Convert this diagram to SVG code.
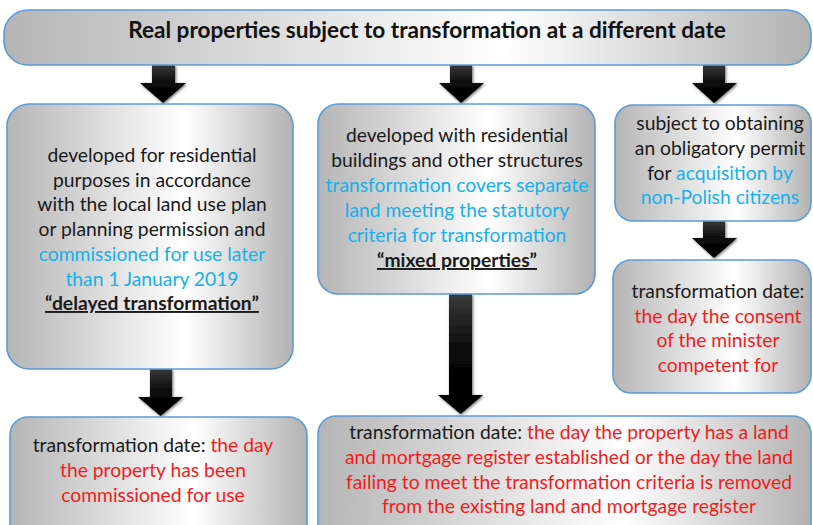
<svg xmlns="http://www.w3.org/2000/svg" width="813" height="525" viewBox="0 0 813 525">
<style>
.box{stroke:#5b9bd5;stroke-width:1.6;fill:url(#bg)}
.t{font-family:Lato,"Liberation Sans",sans-serif;font-size:19.3px;fill:#1a1a1a;text-anchor:middle}
.title{font-family:Lato,"Liberation Sans",sans-serif;font-size:22.6px;font-weight:bold;fill:#111;text-anchor:middle}
.b{fill:#17b0ea}
.r{fill:#f21c1c}
.u{font-weight:bold;text-decoration:underline}
.arr{fill:url(#ag);filter:url(#sh)}
</style>
<defs>
<linearGradient id="bg" x1="0" y1="0" x2="1" y2="0">
<stop offset="0" stop-color="#b5b5b5"/>
<stop offset="0.62" stop-color="#ffffff"/>
<stop offset="1" stop-color="#b2b2b2"/>
</linearGradient>
<linearGradient id="ag" x1="0" y1="0" x2="0" y2="1">
<stop offset="0" stop-color="#3a3a3a"/>
<stop offset="0.5" stop-color="#080808"/>
<stop offset="1" stop-color="#000"/>
</linearGradient>
<filter id="sh" x="-30%" y="-30%" width="160%" height="160%">
<feGaussianBlur in="SourceAlpha" stdDeviation="1.8"/>
<feOffset dx="1" dy="1" result="b"/>
<feComponentTransfer><feFuncA type="linear" slope="0.6"/></feComponentTransfer>
<feMerge><feMergeNode/><feMergeNode in="SourceGraphic"/></feMerge>
</filter>
</defs>
<rect width="813" height="525" fill="#fff"/>

<g id="connectors">
<polygon class="arr" points="152,65 175,65 175,83 186,83 163,103 140,83 152,83"/>
<polygon class="arr" points="450,65 472,65 472,83 484,83 461,103 439,83 450,83"/>
<polygon class="arr" points="703,65 725,65 725,83 737,83 714,103 692,83 703,83"/>
<polygon class="arr" points="703,221 725,221 725,238 737,238 714,258 692,238 703,238"/>
<polygon class="arr" points="150,369 172,369 172,397 183,397 160.5,416 138,397 150,397"/>
<polygon class="arr" points="449,294 472,294 472,395 483,395 460.5,414 438,395 449,395"/>
</g>

<g id="top">
<rect class="box" x="4" y="10" width="807" height="55" rx="24"/>
<text class="title" x="427" y="38">Real properties subject to transformation at a different date</text>
</g>

<g id="delayed">
<rect class="box" x="7" y="104" width="286" height="265" rx="22"/>
<text class="t" x="152" y="162">developed for residential</text>
<text class="t" x="152" y="187">purposes in accordance</text>
<text class="t" x="152" y="211">with the local land use plan</text>
<text class="t" x="152" y="236">or planning permission and</text>
<text class="t b" x="152" y="261">commissioned for use later</text>
<text class="t b" x="152" y="286">than 1 January 2019</text>
<text class="t u" x="152" y="310">“delayed transformation”</text>
</g>

<g id="mixed">
<rect class="box" x="318" y="104" width="277" height="190" rx="20"/>
<text class="t" x="457" y="142">developed with residential</text>
<text class="t" x="457" y="167">buildings and other structures</text>
<text class="t b" x="457" y="192">transformation covers separate</text>
<text class="t b" x="457" y="217">land meeting the statutory</text>
<text class="t b" x="457" y="242">criteria for transformation</text>
<text class="t u" x="457" y="267">“mixed properties”</text>
</g>

<g id="permit">
<rect class="box" x="615" y="105" width="196" height="116" rx="18"/>
<text class="t" x="720" y="130">subject to obtaining</text>
<text class="t" x="720" y="155">an obligatory permit</text>
<text class="t" x="720" y="180">for <tspan class="b">acquisition by</tspan></text>
<text class="t b" x="720" y="204">non-Polish citizens</text>
</g>

<g id="permit-date">
<rect class="box" x="613" y="260" width="198" height="133" rx="18"/>
<text class="t" x="718" y="298">transformation date:</text>
<text class="t r" x="718" y="323">the day the consent</text>
<text class="t r" x="718" y="347">of the minister</text>
<text class="t r" x="718" y="372">competent for</text>
</g>

<g id="delayed-date">
<rect class="box" x="10" y="417" width="297" height="125" rx="18"/>
<text class="t" x="153" y="452">transformation date: <tspan class="r">the day</tspan></text>
<text class="t r" x="153" y="477">the property has been</text>
<text class="t r" x="153" y="502">commissioned for use</text>
</g>

<g id="mixed-date">
<rect class="box" x="318" y="416" width="493" height="126" rx="18"/>
<text class="t" x="569" y="439">transformation date: <tspan class="r">the day the property has a land</tspan></text>
<text class="t r" x="569" y="464">and mortgage register established or the day the land</text>
<text class="t r" x="569" y="489">failing to meet the transformation criteria is removed</text>
<text class="t r" x="569" y="513">from the existing land and mortgage register</text>
</g>
</svg>
